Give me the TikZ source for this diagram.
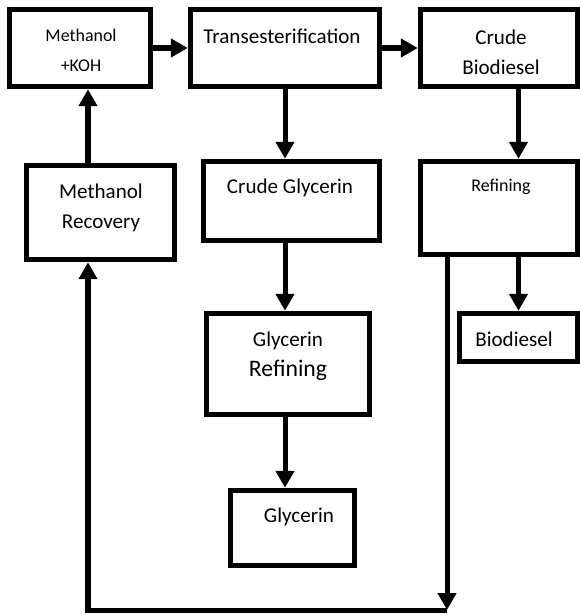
\documentclass[tikz,border=0pt]{standalone}
\usepackage{fontspec}
\setmainfont{Carlito}
\usepackage{tikz}
\usetikzlibrary{arrows.meta}
\usetikzlibrary{positioning}

\begin{document}
\begin{tikzpicture}[x=0.02cm, y=-0.02cm,
	blk/.style={draw, line width=3.1pt, rectangle, inner sep=0pt},
	txt/.style={align=center, inner sep=0pt, font=\fontsize{12}{17}\selectfont},
	smalltxt/.style={txt, font=\fontsize{10.2}{17}\selectfont},
	arr/.style={line width=2.85pt, -{Triangle[length=0.34cm, width=0.36cm]}}]
	\useasboundingbox (0,0) rectangle (580,615);
	\foreach \name/\x/\y/\w/\h in {mk/80/48/2.82/1.54, trans/285/48/3.78/1.54, cbio/499/48/3.14/1.54,
		recovery/100.5/212.5/2.96/1.88, cgly/291.5/201/3.52/1.58, refin/499/208/3.14/1.86,
		grefine/288/364/3.26/2.02, bio/518.5/337.5/2.36/0.96, gly/292.5/528/2.48/1.50}
	{
		\node[blk, minimum width=\w cm, minimum height=\h cm](\name) at (\x,\y){};
	}
	\node[smalltxt](mkT) at (81,50){Methanol\\+KOH};
	\node[txt](transT) at (282,36){Transesterification};
	\node[txt](cbioT) at (501,52){Crude\\Biodiesel};
	\node[txt](recoveryT) at (101,208){Methanol\\Recovery};
	\node[txt](cglyT) at (290,188){Crude Glycerin};
	\node[smalltxt](refinT) at (501,187){Refining};
	\node[txt](grefineT) at (288,356){Glycerin\\{\fontsize{13.5}{17}\selectfont Refining}};
	\node[txt](bioT) at (514,339){Biodiesel};
	\node[txt](glyT) at (299,517){Glycerin};
	\coordinate (loopL) at (88,610);
	\coordinate (loopR) at (447,610);

	\draw[arr] (mk) -- (trans);
	\draw[arr] (trans) -- (cbio);
	\foreach \a/\b in {trans/cgly, cgly/grefine, grefine/gly}
	{
		\draw[arr] (\a.south -| trans.south) -- (\b.north -| trans.south);
	}
	\draw[arr] (cbio.south -| bio.north) -- (refin.north -| bio.north);
	\draw[arr] (refin.south -| bio.north) -- (bio.north);
	\draw[arr] (recovery.north -| loopL) -- (mk.south -| loopL);
	\draw[arr] (refin.south -| loopR) -- (loopR);
	\draw[arr] (loopR) -- (loopL) -- (recovery.south -| loopL);
\end{tikzpicture}
\end{document}
